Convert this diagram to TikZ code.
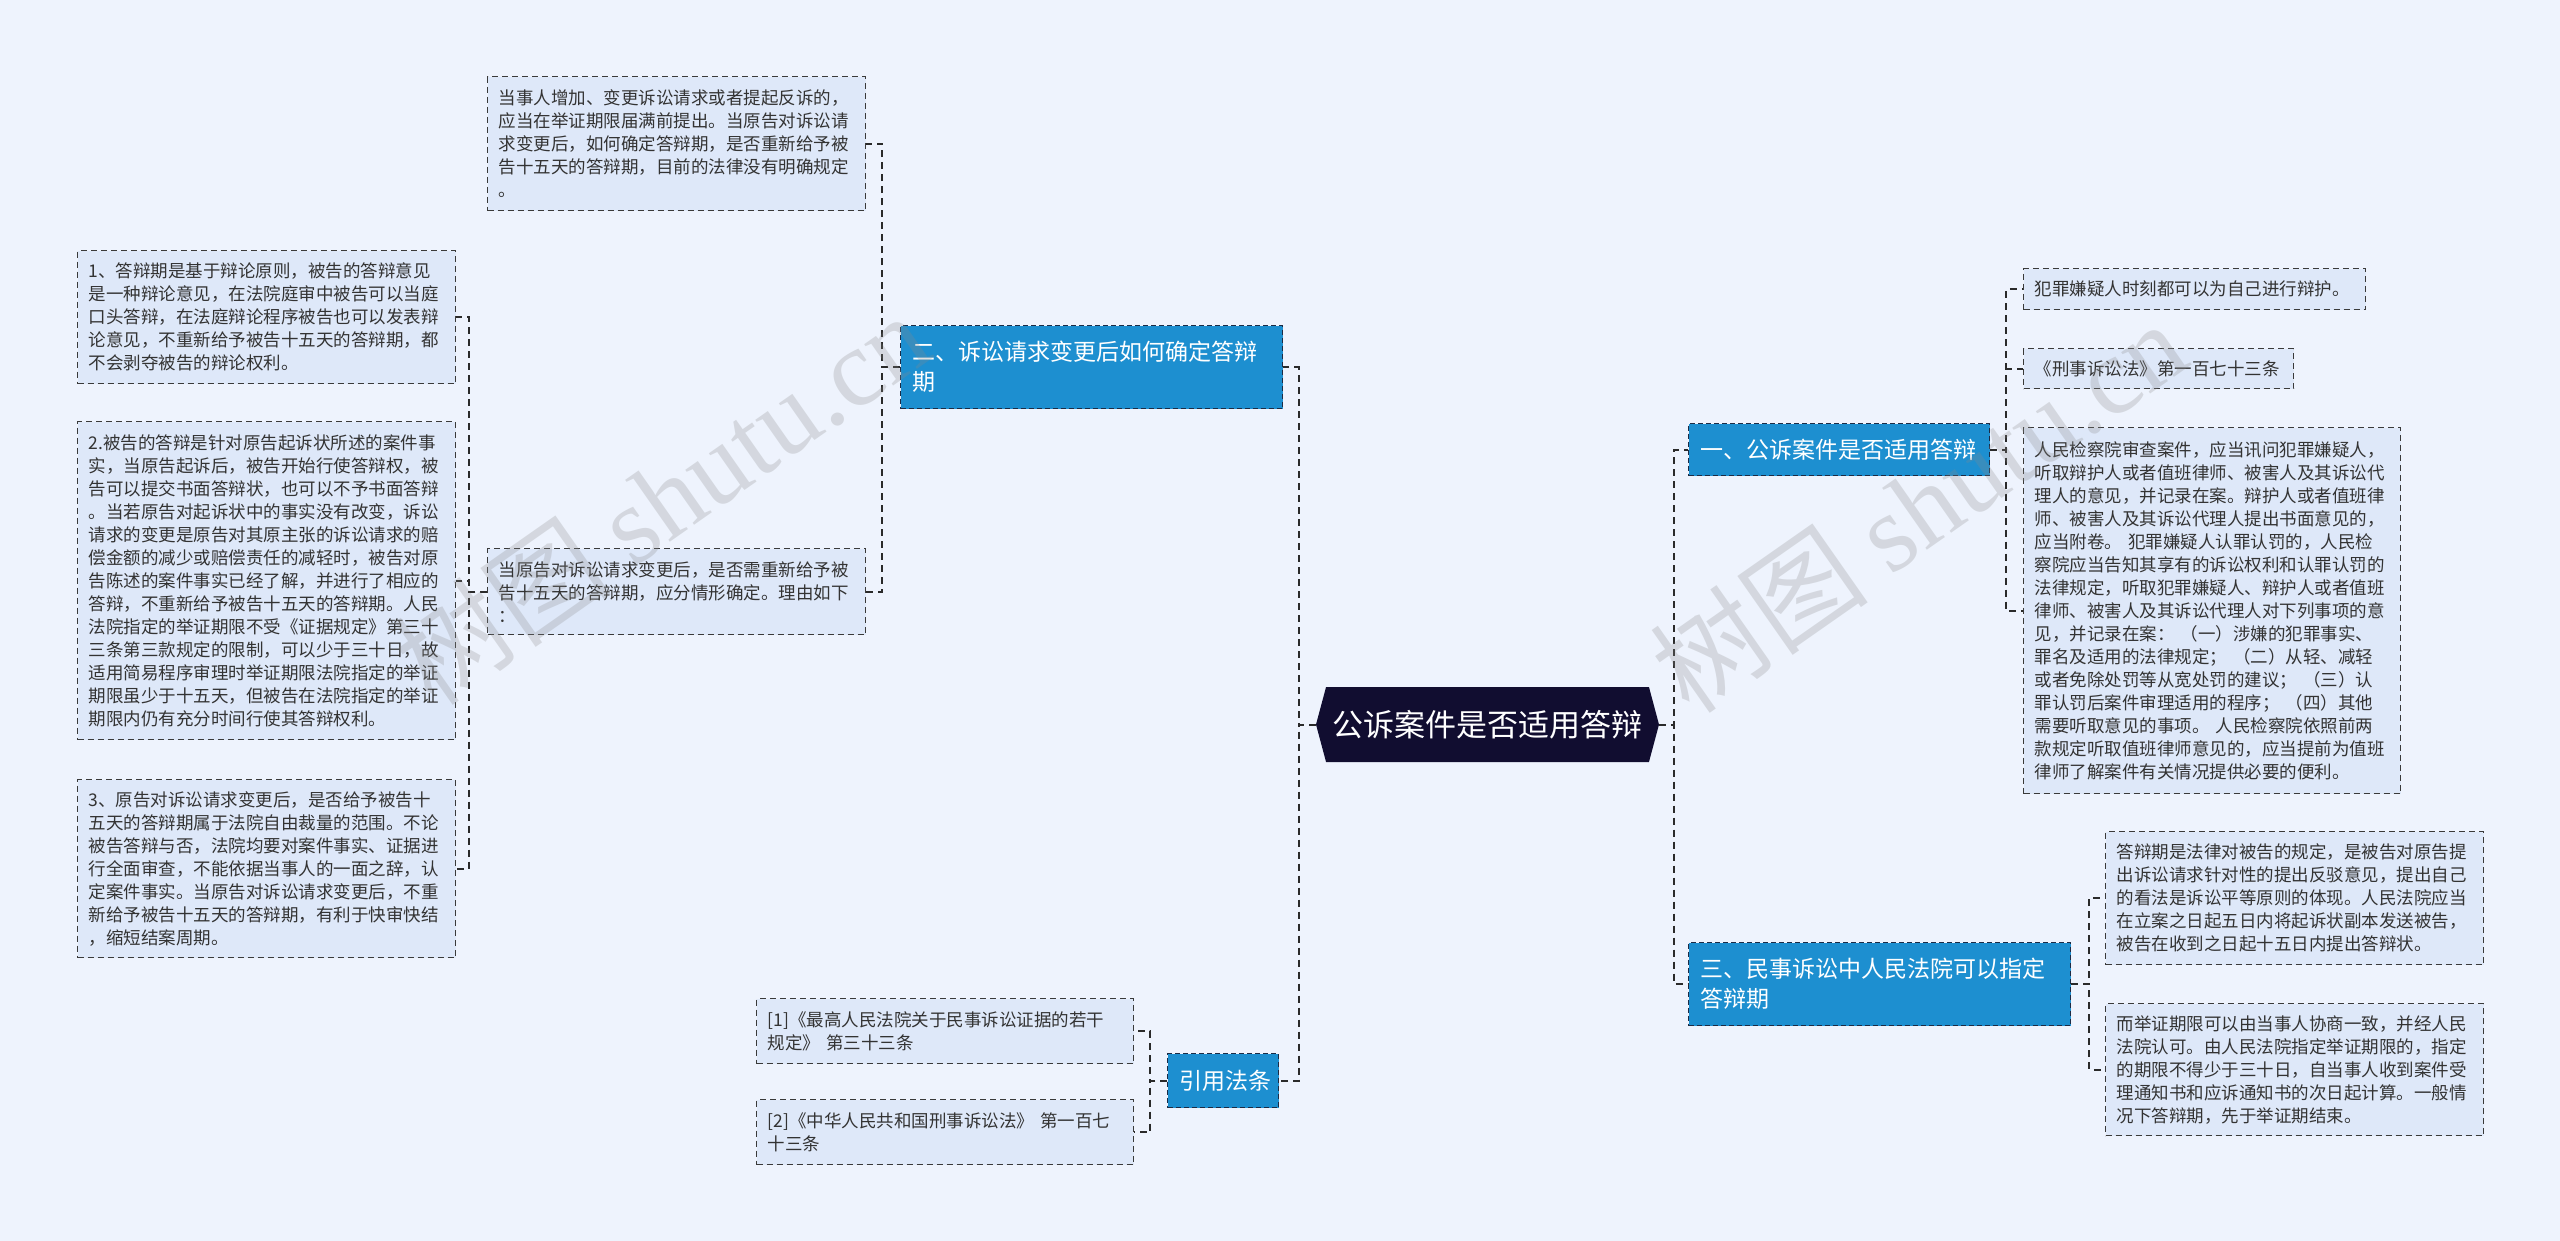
\documentclass[tikz,border=0pt]{standalone}
\usepackage{fontspec}
\setmainfont{Noto Sans CJK SC}
\newfontfamily\wmlatin{Liberation Serif}
\usetikzlibrary{shapes.symbols}
\definecolor{bg}{HTML}{EEF3FD}
\definecolor{leaff}{HTML}{DEE8F9}
\definecolor{edgec}{HTML}{3A3A3A}
\definecolor{branchf}{HTML}{1D8FD0}
\definecolor{branche}{HTML}{1B2B45}
\definecolor{centerf}{HTML}{110D30}
\definecolor{connc}{HTML}{2A2A2A}
\definecolor{txt}{HTML}{333333}
\definecolor{wmc}{HTML}{8A8A8A}
\newcommand\leaffont{\fontsize{17.5pt}{23pt}\selectfont}
\newcommand\branchfont{\fontsize{23pt}{30pt}\selectfont}
\newcommand\centerfont{\fontsize{31pt}{36pt}\selectfont}
\newcommand\wmfont{\fontsize{110pt}{120pt}\selectfont}
\tikzset{
  leaf/.style={draw=edgec, line width=1.4pt, dash pattern=on 6pt off 4pt, fill=leaff,
    font=\leaffont, text=txt, align=left, inner xsep=11pt, inner ysep=0pt, anchor=north west},
  branch/.style={draw=branche, line width=1.4pt, dash pattern=on 5pt off 3pt, fill=branchf,
    text=white, font=\branchfont, align=left, inner xsep=12pt, inner ysep=0pt, anchor=north west},
  conn/.style={draw=connc, line width=2pt, dash pattern=on 7pt off 5pt},
  wmark/.style={text=wmc, text opacity=0.26, rotate=35, font=\wmfont, inner sep=0pt},
}
\begin{document}
\begin{tikzpicture}[x=1pt,y=-1pt]
\fill[bg] (0,0) rectangle (2560,1241);
\useasboundingbox (0,0) rectangle (2560,1241);

% center
\node[signal, signal to=west and east, signal pointer angle=150, fill=centerf, text=white,
  font=\centerfont, minimum width=343pt, minimum height=75pt, inner sep=0pt] (center) at (1487.5,724.5) {公诉案件是否适用答辩};

% branches
\node[branch, minimum width=382pt, minimum height=83pt, text width=358pt] (b2) at (900,325) {二、诉讼请求变更后如何确定答辩\\期};
\node[branch, minimum width=301pt, minimum height=52pt, text width=277pt] (b1) at (1688,423) {一、公诉案件是否适用答辩};
\node[branch, minimum width=382pt, minimum height=83pt, text width=358pt] (b3) at (1688,942) {三、民事诉讼中人民法院可以指定\\答辩期};
\node[branch, minimum width=111pt, minimum height=54pt, text width=87pt, align=center, inner xsep=12pt] (cite) at (1167,1053) {引用法条};

% left side leaves
\node[leaf, minimum width=378pt, minimum height=134pt, text width=356pt] (a1) at (487,76) {当事人增加、变更诉讼请求或者提起反诉的，\\应当在举证期限届满前提出。当原告对诉讼请\\求变更后，如何确定答辩期，是否重新给予被\\告十五天的答辩期，目前的法律没有明确规定\\。};
\node[leaf, minimum width=378pt, minimum height=86pt, text width=356pt] (a2) at (487,548) {当原告对诉讼请求变更后，是否需重新给予被\\告十五天的答辩期，应分情形确定。理由如下\\：};
\node[leaf, minimum width=378pt, minimum height=133pt, text width=356pt] (l1) at (77,250) {1、答辩期是基于辩论原则，被告的答辩意见\\是一种辩论意见，在法院庭审中被告可以当庭\\口头答辩，在法庭辩论程序被告也可以发表辩\\论意见，不重新给予被告十五天的答辩期，都\\不会剥夺被告的辩论权利。};
\node[leaf, minimum width=378pt, minimum height=318pt, text width=356pt] (l2) at (77,421) {2.被告的答辩是针对原告起诉状所述的案件事\\实，当原告起诉后，被告开始行使答辩权，被\\告可以提交书面答辩状，也可以不予书面答辩\\。当若原告对起诉状中的事实没有改变，诉讼\\请求的变更是原告对其原主张的诉讼请求的赔\\偿金额的减少或赔偿责任的减轻时，被告对原\\告陈述的案件事实已经了解，并进行了相应的\\答辩，不重新给予被告十五天的答辩期。人民\\法院指定的举证期限不受《证据规定》第三十\\三条第三款规定的限制，可以少于三十日，故\\适用简易程序审理时举证期限法院指定的举证\\期限虽少于十五天，但被告在法院指定的举证\\期限内仍有充分时间行使其答辩权利。};
\node[leaf, minimum width=378pt, minimum height=178pt, text width=356pt] (l3) at (77,779) {3、原告对诉讼请求变更后，是否给予被告十\\五天的答辩期属于法院自由裁量的范围。不论\\被告答辩与否，法院均要对案件事实、证据进\\行全面审查，不能依据当事人的一面之辞，认\\定案件事实。当原告对诉讼请求变更后，不重\\新给予被告十五天的答辩期，有利于快审快结\\，缩短结案周期。};
\node[leaf, minimum width=377pt, minimum height=65pt, text width=355pt] (ref1) at (756,998) {[1]《最高人民法院关于民事诉讼证据的若干\\规定》 第三十三条};
\node[leaf, minimum width=377pt, minimum height=65pt, text width=355pt] (ref2) at (756,1099) {[2]《中华人民共和国刑事诉讼法》 第一百七\\十三条};

% right side leaves
\node[leaf, minimum width=342pt, minimum height=41pt, text width=320pt] (r1) at (2023,268) {犯罪嫌疑人时刻都可以为自己进行辩护。};
\node[leaf, minimum width=270pt, minimum height=40pt, text width=248pt] (r2) at (2023,348) {《刑事诉讼法》第一百七十三条};
\node[leaf, minimum width=377pt, minimum height=366pt, text width=355pt] (r3) at (2023,427) {人民检察院审查案件，应当讯问犯罪嫌疑人，\\听取辩护人或者值班律师、被害人及其诉讼代\\理人的意见，并记录在案。辩护人或者值班律\\师、被害人及其诉讼代理人提出书面意见的，\\应当附卷。 犯罪嫌疑人认罪认罚的，人民检\\察院应当告知其享有的诉讼权利和认罪认罚的\\法律规定，听取犯罪嫌疑人、辩护人或者值班\\律师、被害人及其诉讼代理人对下列事项的意\\见，并记录在案： （一）涉嫌的犯罪事实、\\罪名及适用的法律规定； （二）从轻、减轻\\或者免除处罚等从宽处罚的建议； （三）认\\罪认罚后案件审理适用的程序； （四）其他\\需要听取意见的事项。 人民检察院依照前两\\款规定听取值班律师意见的，应当提前为值班\\律师了解案件有关情况提供必要的便利。};
\node[leaf, minimum width=378pt, minimum height=133pt, text width=356pt] (r4) at (2105,831) {答辩期是法律对被告的规定，是被告对原告提\\出诉讼请求针对性的提出反驳意见，提出自己\\的看法是诉讼平等原则的体现。人民法院应当\\在立案之日起五日内将起诉状副本发送被告，\\被告在收到之日起十五日内提出答辩状。};
\node[leaf, minimum width=378pt, minimum height=132pt, text width=356pt] (r5) at (2105,1003) {而举证期限可以由当事人协商一致，并经人民\\法院认可。由人民法院指定举证期限的，指定\\的期限不得少于三十日，自当事人收到案件受\\理通知书和应诉通知书的次日起计算。一般情\\况下答辩期，先于举证期结束。};

% connectors
\draw[conn] (center.west) -- ++(-17,0) |- (b2.east);
\draw[conn] (center.west) -- ++(-17,0) |- (cite.east);
\draw[conn] (center.east) -- ++(15,0) |- (b1.west);
\draw[conn] (center.east) -- ++(15,0) |- (b3.west);
\draw[conn] (b2.west) -- ++(-18,0) |- (a1.east);
\draw[conn] (b2.west) -- ++(-18,0) |- (a2.east);
\draw[conn] (a2.west) -- ++(-18,0) |- (l1.east);
\draw[conn] (a2.west) -- ++(-18,0) |- (l2.east);
\draw[conn] (a2.west) -- ++(-18,0) |- (l3.east);
\draw[conn] (b1.east) -- ++(16,0) |- (r1.west);
\draw[conn] (b1.east) -- ++(16,0) |- (r2.west);
\draw[conn] (b1.east) -- ++(16,0) |- (r3.west);
\draw[conn] (b3.east) -- ++(18,0) |- (r4.west);
\draw[conn] (b3.east) -- ++(18,0) |- (r5.west);
\draw[conn] (cite.west) -- ++(-17,0) |- (ref1.east);
\draw[conn] (cite.west) -- ++(-17,0) |- (ref2.east);

% watermarks
\node[wmark] (wm1) at (661,498) {树图 {\wmlatin shutu.cn}};
\node[wmark] (wm2) at (1918,506) {树图 {\wmlatin shutu.cn}};
\end{tikzpicture}
\end{document}
